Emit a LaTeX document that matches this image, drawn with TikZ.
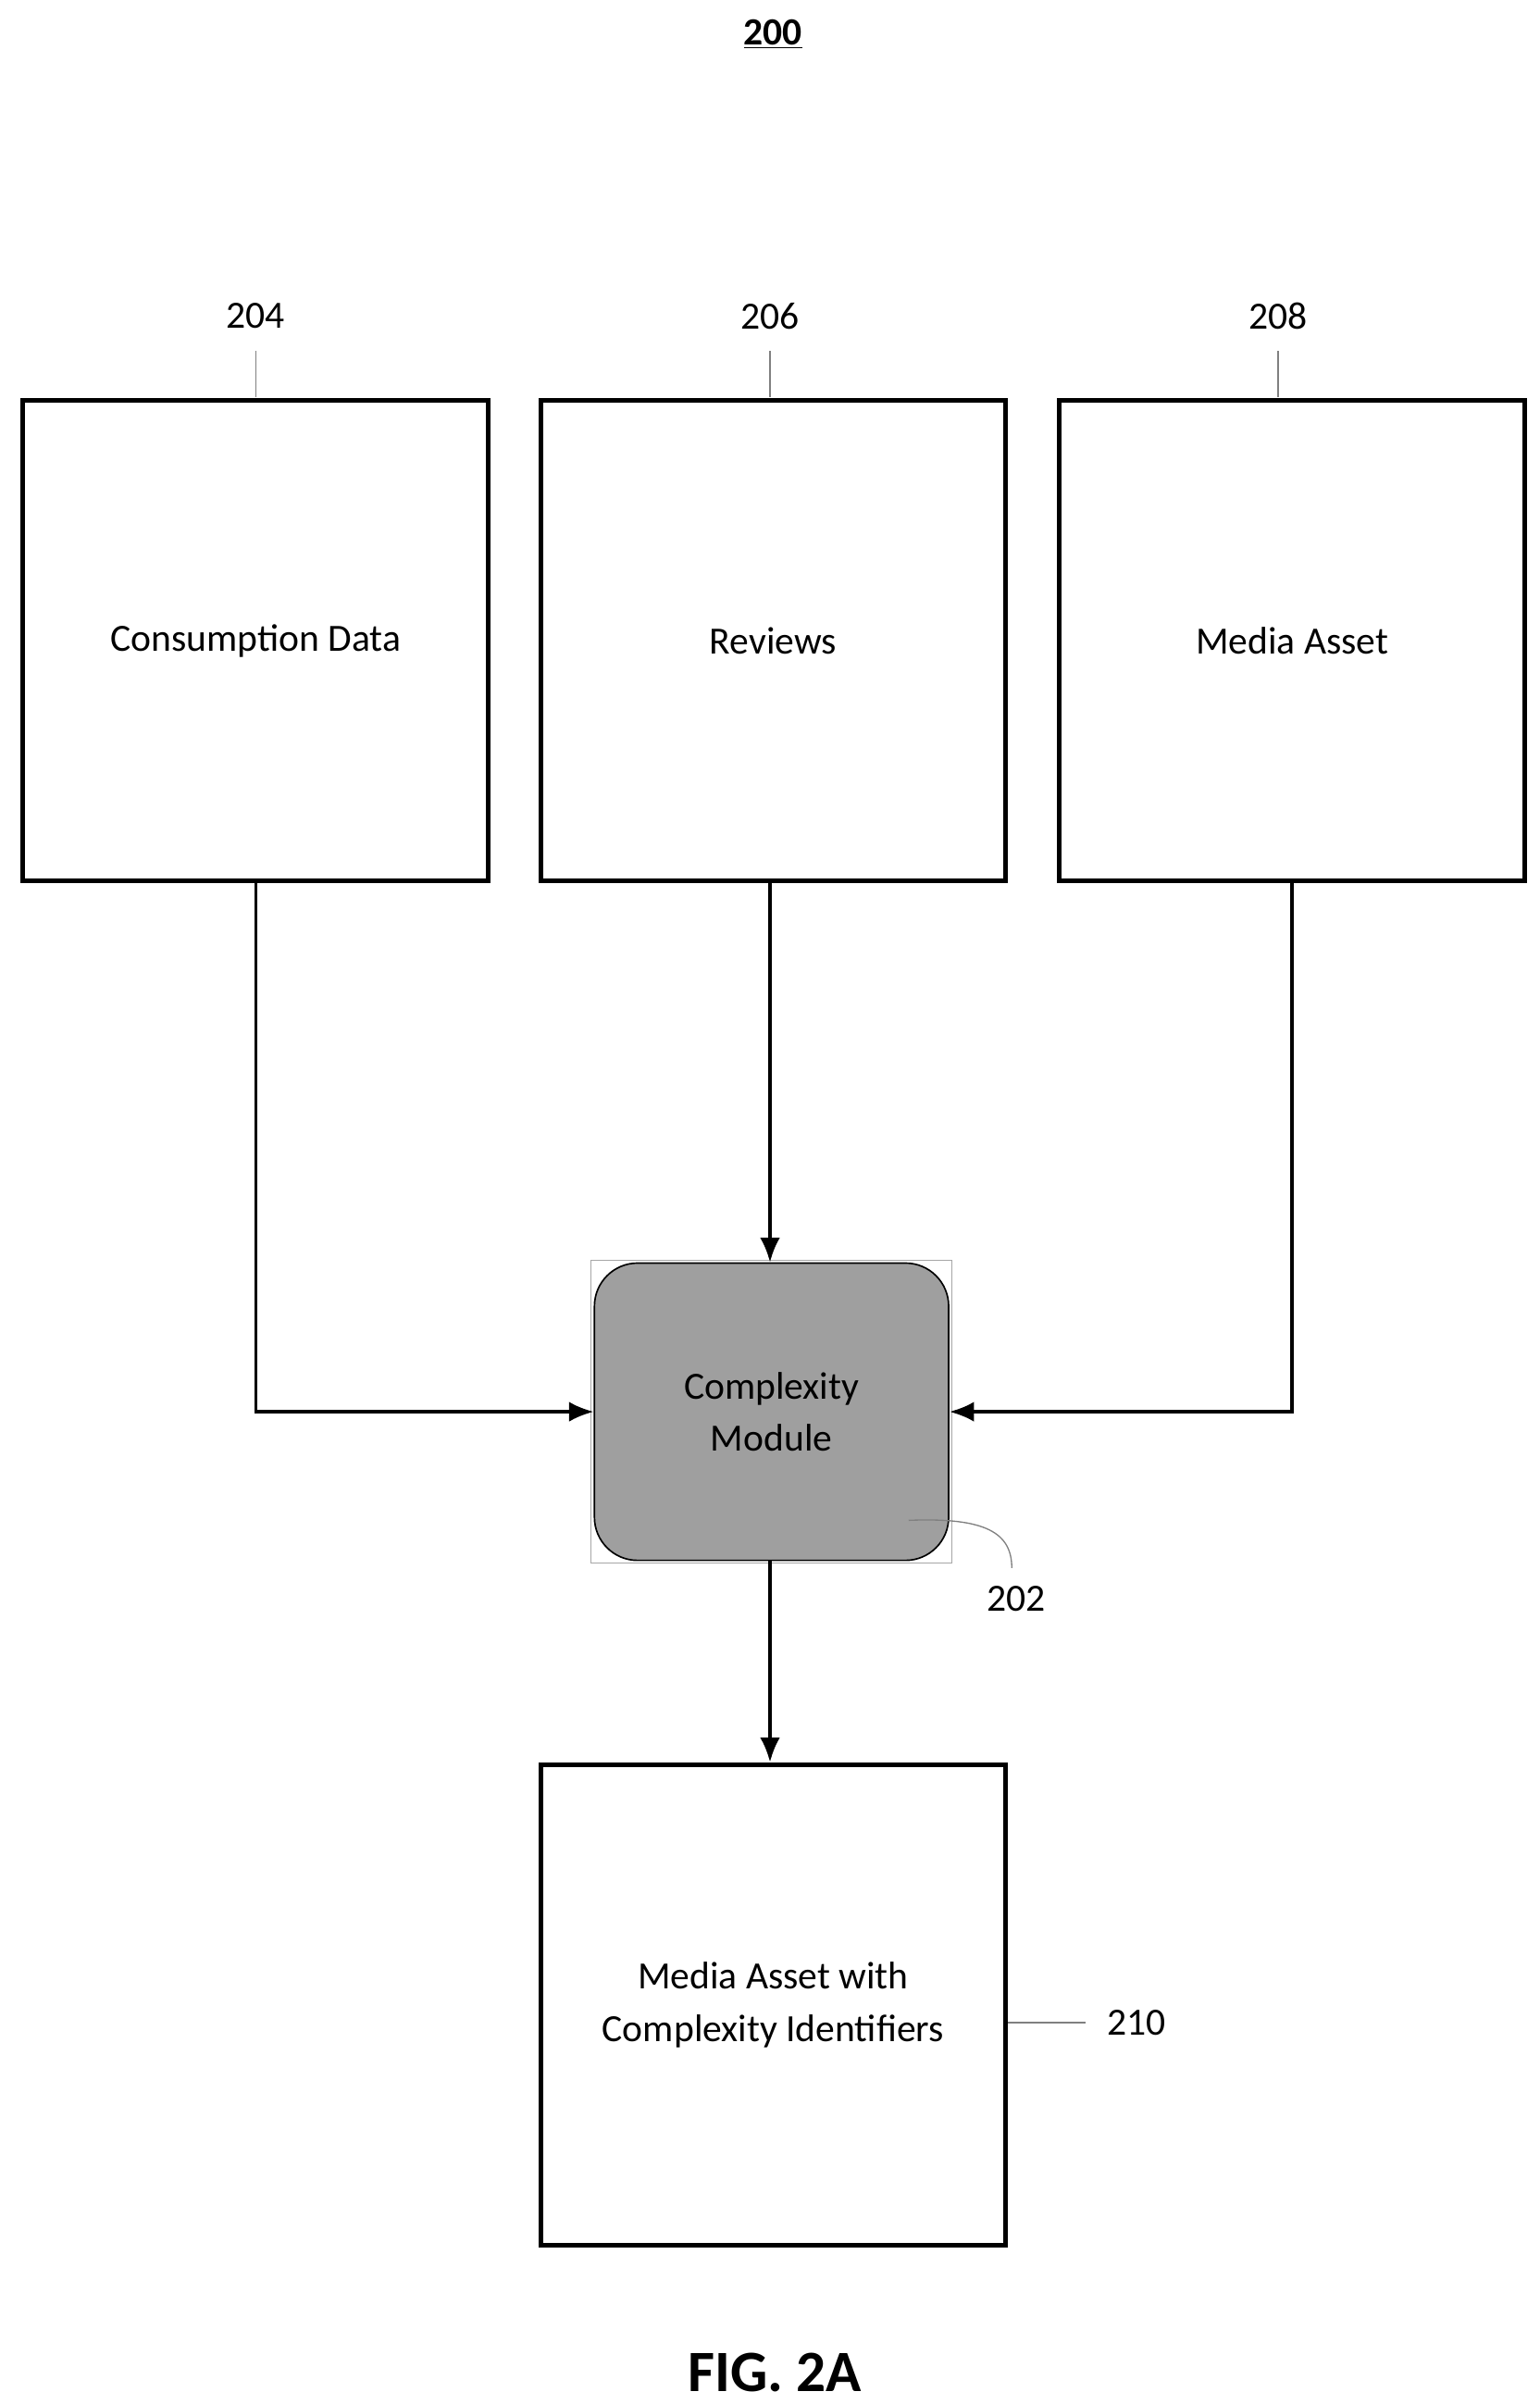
\documentclass[tikz,border=0pt]{standalone}
\usepackage{fontspec}
\setmainfont{Carlito}
\usetikzlibrary{arrows.meta}
\tikzset{
  block/.style={draw, line width=3pt, minimum width=302pt, minimum height=312pt, align=center, font=\fontsize{25}{34}\selectfont},
  flow/.style={line width=2pt, -{Latex[length=16pt,width=13pt]}},
  lead/.style={draw=gray, line width=0.8pt},
  refnum/.style={font=\fontsize{25}{29}\selectfont}
}
\begin{document}
\begin{tikzpicture}[x=1pt, y=-1pt]
      \useasboundingbox (0,0) rectangle (1000,1560.7);
      \node[font=\bfseries\fontsize{25}{29}\selectfont] (fig) at (502,22) {\underline{200}};
      %%% input blocks
      \node[block] (cons) at (166,416) {Consumption Data};
      \node[block] (rev) at (502,416) {Reviews};
      \node[block] (asset) at (839,416) {Media Asset};
      \foreach \n/\x/\t in {cons/166/204, rev/500/206, asset/830/208}{
        \node[refnum] (n\t) at (\x,205) {\t};
        \draw[lead] (\x,228) -- (\x,258);
      }
      %%% complexity module
      \draw[gray!70, line width=0.6pt] (384,818) rectangle (618,1015);
      \node[draw, line width=1pt, fill=gray!75, rounded corners=28pt, minimum width=230pt, minimum height=193pt,
            align=center, font=\fontsize{25}{34}\selectfont] (mod) at (501,916.5) {Complexity\\Module};
      \node[refnum] (n202) at (660,1038) {202};
      \draw[lead] (590,987) .. controls (640,985) and (657,995) .. (657,1018);
      %%% output block
      \node[block] (out) at (502,1301.5) {Media Asset with\\Complexity Identifiers};
      \node[refnum] (n210) at (738,1313) {210};
      \draw[lead] (out.east |- 0,1313) -- (705,1313);
      %%% connectors
      \draw[flow] (cons.south) |- (mod.west);
      \draw[flow] (rev.south -| 500,0) -- (mod.north -| 500,0);
      \draw[flow] (asset.south) |- (mod.east);
      \draw[flow] (mod.south -| 500,0) -- (out.north -| 500,0);
      \node[font=\bfseries\fontsize{38}{42}\selectfont] (cap) at (503,1540) {FIG. 2A};
\end{tikzpicture}
\end{document}
